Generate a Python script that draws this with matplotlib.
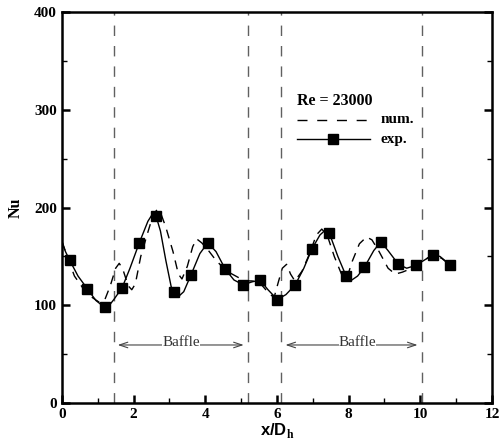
import numpy as np
import matplotlib
matplotlib.use('Agg')
import matplotlib.pyplot as plt

# experimental points (markers)
exp_x = [0.22, 0.71, 1.19, 1.68, 2.16, 2.63, 3.13, 3.60, 4.07, 4.56, 5.06, 5.53,
         6.01, 6.51, 6.98, 7.46, 7.93, 8.44, 8.90, 9.39, 9.88, 10.36, 10.84]
exp_y = [146, 117, 98, 118, 164, 191, 114, 131, 164, 137, 121, 126,
         106, 121, 158, 174, 130, 139, 165, 142, 141, 152, 141]

# solid curve
exp_line_x = [0.0, 0.1, 0.22, 0.45, 0.71, 0.95, 1.19, 1.3, 1.45, 1.68, 1.9, 2.16,
              2.4, 2.52, 2.63, 2.75, 2.9, 3.05, 3.13, 3.25, 3.4, 3.6, 3.85, 4.07,
              4.3, 4.56, 4.8, 5.06, 5.3, 5.53, 5.75, 6.01, 6.25, 6.51, 6.75, 6.98,
              7.2, 7.35, 7.46, 7.7, 7.93, 8.09, 8.25, 8.44, 8.7, 8.9, 9.1, 9.39,
              9.62, 9.88, 10.1, 10.36, 10.55, 10.84]
exp_line_y = [166, 155, 146, 130, 117, 105, 98, 99, 106, 118, 138, 164,
              186, 193, 191, 176, 146, 119, 114, 109, 114, 131, 153, 164,
              155, 137, 126, 121, 124, 126, 116, 106, 111, 121, 138, 158,
              172, 177, 174, 150, 130, 126, 130, 139, 156, 165, 156, 142,
              138, 141, 146, 152, 150, 141]

# numerical curve (dashed)
num_x = [0.0, 0.15, 0.35, 0.6, 0.85, 1.05, 1.2, 1.35, 1.5, 1.6, 1.7, 1.85, 1.95,
         2.05, 2.2, 2.4, 2.55, 2.66, 2.78, 2.9, 3.1, 3.25, 3.35, 3.5, 3.65, 3.76,
         3.9, 4.05, 4.3, 4.6, 4.9, 5.1, 5.3, 5.5, 5.76, 5.92, 6.04, 6.15, 6.27,
         6.38, 6.5, 6.7, 6.9, 7.1, 7.25, 7.4, 7.6, 7.8, 7.95, 8.1, 8.3, 8.5,
         8.65, 8.85, 9.1, 9.3, 9.5, 9.7, 9.9, 10.1, 10.36, 10.6, 10.84]
num_y = [165, 150, 130, 117, 108, 103, 106, 120, 138, 143, 137, 120, 116,
         122, 150, 175, 193, 198, 192, 180, 155, 132, 127, 140, 160, 168,
         164, 158, 146, 135, 129, 125, 125, 124, 113, 108, 124, 138, 142,
         132, 125, 135, 152, 172, 178, 172, 150, 132, 128, 145, 163, 170,
         167, 155, 138, 132, 134, 137, 141, 146, 152, 148, 141]

baffle_lines = [1.45, 5.18, 6.12, 10.05]
baffle_spans = [(1.48, 5.15), (6.16, 10.0)]
baffle_text_x = [3.32, 8.25]

plt.rcParams['font.family'] = 'Liberation Serif'
plt.rcParams['mathtext.fontset'] = 'custom'
plt.rcParams['mathtext.rm'] = 'Liberation Serif:bold'
plt.rcParams['mathtext.sf'] = 'Liberation Sans:bold'

fig = plt.figure(figsize=(4.99, 4.45), dpi=100)
ax = fig.add_axes([0.124, 0.094, 0.862, 0.879])

for xv in baffle_lines:
    ax.axvline(xv, color='#606060', lw=1.0, dashes=(7.5, 7.2))

ax.plot(num_x, num_y, color='black', lw=1.0, dashes=(6.5, 5))
ax.plot(exp_line_x, exp_line_y, color='black', lw=1.0)
ax.plot(exp_x, exp_y, 's', color='black', ms=6.5)

# baffle arrows
for (a, b), tx in zip(baffle_spans, baffle_text_x):
    ax.annotate('', xy=(a, 59.5), xytext=(b, 59.5),
                arrowprops=dict(arrowstyle='<->,head_length=0.6,head_width=0.2',
                                color='#444444', lw=0.8))
    ax.text(tx, 62, 'Baffle', ha='center', va='center', fontsize=11,
            color='#333333', bbox=dict(facecolor='white', edgecolor='none', pad=0.0))

# legend drawn by hand
ax.text(6.56, 309.5, 'Re = 23000', fontsize=11.5, fontweight='bold', va='center')
ax.plot([6.56, 8.54], [290, 290], color='black', lw=1.0, dashes=(7.2, 7))
ax.text(8.88, 290, 'num.', fontsize=11, fontweight='bold', va='center')
ax.plot([6.56, 8.6], [270, 270], color='black', lw=1.0)
ax.plot([7.56], [270], 's', color='black', ms=6.5)
ax.text(8.88, 270, 'exp.', fontsize=11, fontweight='bold', va='center')

ax.set_xlim(0, 12)
ax.set_ylim(0, 400)
ax.set_xticks(range(0, 13, 2))
ax.set_xticks(range(1, 12, 2), minor=True)
ax.set_yticks(range(0, 401, 100))
ax.set_yticks(range(50, 400, 100), minor=True)
ax.tick_params(which='both', direction='in', right=True)
ax.tick_params(which='major', length=6, width=1.8)
ax.tick_params(which='minor', length=3.5, width=1.0)
for lab in ax.get_xticklabels() + ax.get_yticklabels():
    lab.set_fontweight('bold')
    lab.set_fontsize(11)
for s in ax.spines.values():
    s.set_linewidth(1.8)

ax.set_xlabel(r'$\mathsf{x/D}_{\mathrm{h}}$', fontsize=12, labelpad=0)
ax.set_ylabel('Nu', fontsize=11.5, fontweight='bold')
ax.yaxis.set_label_coords(-0.088, 0.5)

fig.savefig('out.png', dpi=100)
